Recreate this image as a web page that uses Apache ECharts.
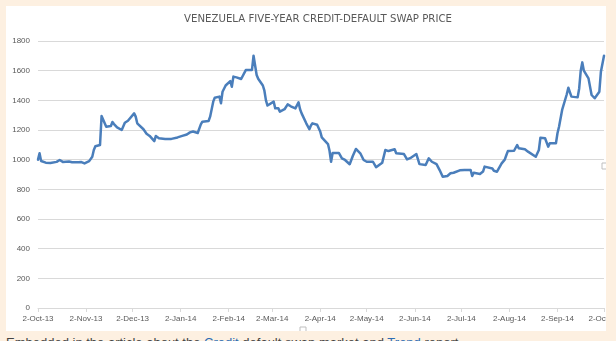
<!DOCTYPE html>
<html>
<head>
<meta charset="utf-8">
<script src="https://cdn.jsdelivr.net/npm/echarts@6/dist/echarts.min.js"></script>
<style>
  html, body { margin: 0; padding: 0; }
  body { width: 616px; height: 341px; background: #FDF0E1; position: relative; overflow: hidden; }
  #panel { position: absolute; left: 6px; top: 6px; width: 600px; height: 325px; background: #fff; overflow: hidden; }
  #chart { width: 600px; height: 325px; }
  #note { position: absolute; left: 6px; top: 335px; font: 13px "Liberation Sans", Arial, sans-serif; color: #444; white-space: nowrap; }
  #note span { color: #2E6DB4; }
</style>
</head>
<body>
<div id="panel"><div id="chart"></div></div>
<div id="note">Embedded in the article about the <span>Credit</span> default swap market and <span>Trend</span> report</div>
<script>
const chartTitle = 'VENEZUELA FIVE-YEAR CREDIT-DEFAULT SWAP PRICE';

const dates = [
  '2013-10-02','2013-10-03','2013-10-04','2013-10-07','2013-10-10','2013-10-14','2013-10-16','2013-10-18',
  '2013-10-22','2013-10-24','2013-10-28','2013-10-30','2013-11-01','2013-11-04','2013-11-06','2013-11-07',
  '2013-11-08','2013-11-11','2013-11-12','2013-11-13','2013-11-15','2013-11-18','2013-11-19','2013-11-20',
  '2013-11-21','2013-11-22','2013-11-25','2013-11-27','2013-11-28','2013-11-29','2013-12-03','2013-12-04',
  '2013-12-05','2013-12-06','2013-12-09','2013-12-11','2013-12-13','2013-12-16','2013-12-17','2013-12-19',
  '2013-12-23','2013-12-27','2013-12-31','2014-01-03','2014-01-06','2014-01-08','2014-01-09','2014-01-10',
  '2014-01-13','2014-01-14','2014-01-15','2014-01-16','2014-01-20','2014-01-21','2014-01-22','2014-01-23',
  '2014-01-24','2014-01-27','2014-01-28','2014-01-29','2014-01-31','2014-02-03','2014-02-04','2014-02-05',
  '2014-02-07','2014-02-10','2014-02-11','2014-02-13','2014-02-17','2014-02-18','2014-02-19','2014-02-20',
  '2014-02-21','2014-02-24','2014-02-25','2014-02-26','2014-02-27','2014-02-28','2014-03-03','2014-03-04',
  '2014-03-06','2014-03-07','2014-03-10','2014-03-12','2014-03-14','2014-03-17','2014-03-19','2014-03-20',
  '2014-03-21','2014-03-24','2014-03-26','2014-03-27','2014-03-28','2014-03-31','2014-04-02','2014-04-03',
  '2014-04-04','2014-04-07','2014-04-08','2014-04-09','2014-04-10','2014-04-14','2014-04-16','2014-04-18',
  '2014-04-21','2014-04-23','2014-04-25','2014-04-28','2014-04-30','2014-05-02','2014-05-06','2014-05-08',
  '2014-05-12','2014-05-14','2014-05-16','2014-05-20','2014-05-21','2014-05-26','2014-05-28','2014-05-30',
  '2014-06-03','2014-06-05','2014-06-06','2014-06-09','2014-06-11','2014-06-13','2014-06-16','2014-06-18',
  '2014-06-20','2014-06-23','2014-06-25','2014-06-27','2014-07-01','2014-07-04','2014-07-08','2014-07-09',
  '2014-07-10','2014-07-14','2014-07-16','2014-07-17','2014-07-18','2014-07-22','2014-07-23','2014-07-25',
  '2014-07-28','2014-07-30','2014-07-31','2014-08-01','2014-08-05','2014-08-07','2014-08-08','2014-08-12',
  '2014-08-14','2014-08-19','2014-08-21','2014-08-22','2014-08-25','2014-08-27','2014-08-28','2014-09-01',
  '2014-09-02','2014-09-03','2014-09-05','2014-09-08','2014-09-09','2014-09-11','2014-09-15','2014-09-16',
  '2014-09-17','2014-09-18','2014-09-19','2014-09-22','2014-09-23','2014-09-24','2014-09-26','2014-09-29',
  '2014-09-30','2014-10-02'
];

const cdsPrice = [
  1000,1043,991,980,978,985,998,985,
  988,983,982,984,975,990,1020,1065,
  1090,1099,1294,1286,1222,1227,1254,1240,
  1249,1218,1200,1249,1254,1262,1312,1290,
  1245,1235,1205,1175,1160,1125,1160,1145,
  1140,1140,1150,1160,1170,1184,1171,1190,
  1180,1178,1238,1256,1261,1290,1340,1391,
  1418,1425,1380,1458,1500,1530,1492,1560,
  1555,1544,1553,1604,1605,1701,1692,1571,
  1545,1500,1465,1400,1365,1357,1391,1346,
  1346,1324,1340,1373,1360,1346,1387,1340,
  1312,1245,1205,1230,1245,1235,1190,1150,
  1140,1105,1060,986,1045,1045,1009,998,
  969,1025,1072,1040,998,986,986,949,
  980,1065,1058,1070,1043,1038,1002,1010,
  1038,970,957,964,1009,986,970,930,
  885,890,908,912,928,930,930,890,
  912,903,920,953,942,940,925,919,
  975,1000,1030,1058,1060,1099,1077,1070,
  1054,1020,1065,1148,1144,1088,1110,1110,
  1178,1222,1335,1441,1485,1425,1420,1480,
  1600,1656,1600,1548,1541,1436,1414,1458,
  1593,1701
];

const xTickDates = [
  '2013-10-02','2013-11-02','2013-12-02','2014-01-02','2014-02-02','2014-03-02','2014-04-02',
  '2014-05-02','2014-06-02','2014-07-02','2014-08-02','2014-09-02','2014-10-02'
];
const xTickLabels = [
  '2-Oct-13','2-Nov-13','2-Dec-13','2-Jan-14','2-Feb-14','2-Mar-14','2-Apr-14',
  '2-May-14','2-Jun-14','2-Jul-14','2-Aug-14','2-Sep-14','2-Oct-14'
];
const yTicks = [0, 200, 400, 600, 800, 1000, 1200, 1400, 1600, 1800];

function toTime(s) {
  const p = s.split('-').map(Number);
  return Date.UTC(p[0], p[1] - 1, p[2]);
}
const tickTimes = xTickDates.map(toTime);

const chart = echarts.init(document.getElementById('chart'), null, { renderer: 'canvas' });
chart.setOption({
  animation: false,
  backgroundColor: '#ffffff',
  title: {
    text: chartTitle,
    left: 307,
    textAlign: 'center',
    top: 3,
    textStyle: { fontFamily: '"Liberation Sans Narrow", "DejaVu Sans Condensed", "Liberation Sans", sans-serif', fontSize: 11.3, fontWeight: 'normal', color: '#595959' }
  },
  grid: { left: 32, right: 2, top: 35, bottom: 23, containLabel: false, outerBoundsMode: 'none' },
  xAxis: {
    type: 'value',
    min: tickTimes[0],
    max: tickTimes[tickTimes.length - 1],
    axisLine: { show: true, onZero: false, lineStyle: { color: '#D9D9D9', width: 1 } },
    axisTick: { show: true, length: 4, lineStyle: { color: '#D9D9D9' }, customValues: tickTimes },
    splitLine: { show: false },
    axisLabel: {
      customValues: tickTimes,
      color: '#595959',
      fontSize: 8,
      fontFamily: '"Liberation Sans", sans-serif',
      margin: 7,
      hideOverlap: false,
      formatter: function (v) {
        let best = 0, bd = Infinity;
        tickTimes.forEach((t, i) => { const d = Math.abs(t - v); if (d < bd) { bd = d; best = i; } });
        return xTickLabels[best];
      }
    }
  },
  yAxis: {
    type: 'value',
    min: yTicks[0],
    max: yTicks[yTicks.length - 1],
    interval: yTicks[1] - yTicks[0],
    axisLine: { show: false },
    axisTick: { show: false },
    splitLine: { show: true, lineStyle: { color: '#D9D9D9', width: 1 } },
    axisLabel: { color: '#595959', fontSize: 8, fontFamily: '"Liberation Sans", sans-serif', margin: 8, formatter: function (v) { return String(v); } }
  },
  series: [{
    type: 'line',
    data: dates.map((d, i) => [toTime(d), cdsPrice[i]]),
    showSymbol: false,
    smooth: false,
    lineStyle: { color: '#4A7EBB', width: 2.5, join: 'round', cap: 'round' },
    itemStyle: { color: '#4A7EBB' },
    clip: false
  }],
  graphic: [
    { type: 'rect', shape: { x: 294, y: 321, width: 6, height: 6 }, style: { fill: '#fff', stroke: '#BFBFBF', lineWidth: 1 } },
    { type: 'rect', shape: { x: 596, y: 157, width: 6, height: 6 }, style: { fill: '#fff', stroke: '#BFBFBF', lineWidth: 1 } }
  ]
});
</script>
</body>
</html>
